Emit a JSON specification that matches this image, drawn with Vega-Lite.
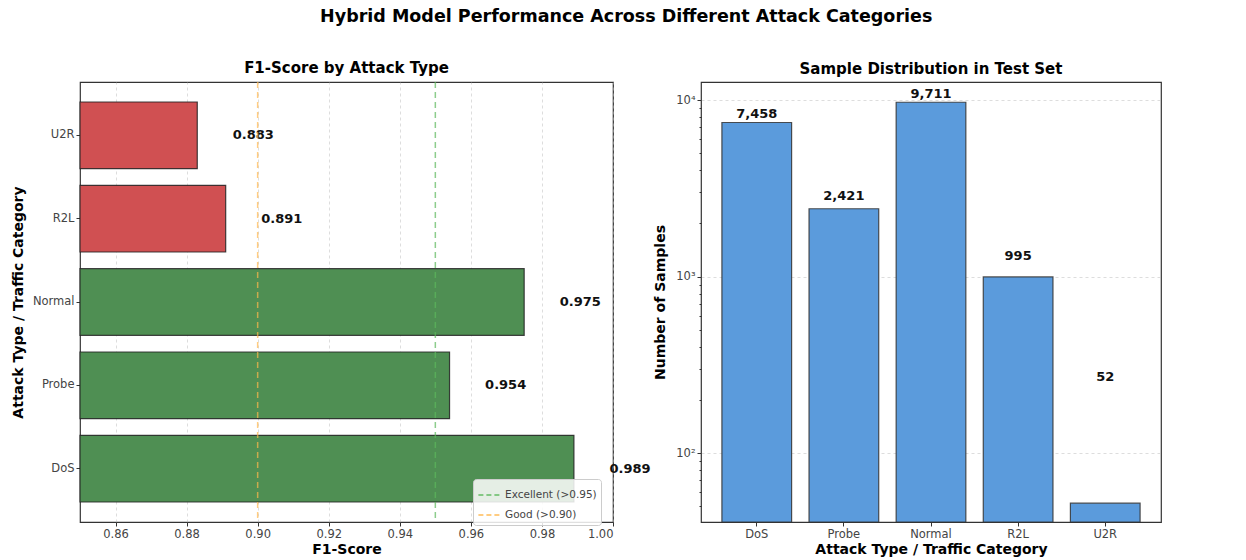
{
  "$schema": "https://vega.github.io/schema/vega-lite/v6.json",
  "background": "white",
  "padding": {"left": 10, "top": 8, "right": 5, "bottom": 4},
  "title": {"text": "Hybrid Model Performance Across Different Attack Categories", "fontSize": 17.5, "fontWeight": "bold", "anchor": "middle", "offset": 35, "dx": 40, "color": "#000"},
  "config": {
    "font": "DejaVu Sans",
    "view": {"stroke": "#333", "strokeWidth": 1.2},
    "title": {"font": "DejaVu Sans", "color": "#000"},
    "axis": {"labelFont": "DejaVu Sans", "titleFont": "DejaVu Sans", "labelFontSize": 11.5, "labelColor": "#444", "tickColor": "#333", "titleFontSize": 14, "titleFontWeight": "bold", "titleColor": "#000", "domain": false, "tickSize": 4},
    "legend": {"labelFont": "DejaVu Sans"}
  },
  "bounds": "flush",
  "spacing": 88,
  "hconcat": [
    {
      "width": 533,
      "height": 440,
      "title": {"text": "F1-Score by Attack Type", "fontSize": 15, "fontWeight": "bold", "offset": 5},
      "data": {"values": [
        {"type": "DoS", "f1": 0.989, "tier": "high"},
        {"type": "Probe", "f1": 0.954, "tier": "high"},
        {"type": "Normal", "f1": 0.975, "tier": "high"},
        {"type": "R2L", "f1": 0.891, "tier": "low"},
        {"type": "U2R", "f1": 0.883, "tier": "low"}
      ]},
      "transform": [{"calculate": "datum.f1 + 0.01", "as": "labelX"}],
      "layer": [
        {
          "mark": {"type": "bar", "stroke": "#222", "strokeWidth": 1.2, "strokeOpacity": 0.85},
          "encoding": {
            "y": {"field": "type", "type": "nominal", "sort": ["U2R", "R2L", "Normal", "Probe", "DoS"], "scale": {"paddingInner": 0.2, "paddingOuter": 0.24}, "axis": {"title": "Attack Type / Traffic Category", "labelAngle": 0, "titlePadding": 7, "grid": false}},
            "x": {"field": "f1", "type": "quantitative", "scale": {"domain": [0.85, 1.0], "zero": false, "nice": false}, "axis": {"title": "F1-Score", "values": [0.86, 0.88, 0.9, 0.92, 0.94, 0.96, 0.98, 1.0], "format": ".2f", "grid": true, "gridDash": [3, 3], "gridColor": "#bbb", "gridOpacity": 0.5, "titlePadding": 3}},
            "x2": {"datum": 0.85},
            "fill": {"field": "tier", "type": "nominal", "scale": {"domain": ["high", "low"], "range": ["#4f8f53", "#d05052"]}, "legend": null}
          }
        },
        {
          "mark": {"type": "text", "align": "left", "baseline": "middle", "fontWeight": "bold", "fontSize": 13, "color": "#111"},
          "encoding": {
            "y": {"field": "type", "type": "nominal", "sort": ["U2R", "R2L", "Normal", "Probe", "DoS"]},
            "x": {"field": "labelX", "type": "quantitative"},
            "text": {"field": "f1", "type": "quantitative", "format": ".3f"}
          }
        },
        {
          "data": {"values": [
            {"thr": 0.95, "label": "Excellent (>0.95)"},
            {"thr": 0.9, "label": "Good (>0.90)"}
          ]},
          "mark": {"type": "rule", "strokeDash": [6, 4], "strokeWidth": 1.5, "opacity": 0.7},
          "encoding": {
            "x": {"field": "thr", "type": "quantitative"},
            "stroke": {"field": "label", "type": "nominal", "scale": {"domain": ["Excellent (>0.95)", "Good (>0.90)"], "range": ["#5cb85c", "#ffb74d"]}, "legend": {"orient": "none", "legendX": 393, "legendY": 397, "title": null, "symbolType": "stroke", "symbolDash": [5, 3], "symbolStrokeWidth": 2, "symbolSize": 450, "labelFontSize": 10.5, "labelColor": "#444", "fillColor": "rgba(255,255,255,0.85)", "strokeColor": "#ccc", "padding": 4, "cornerRadius": 3, "rowPadding": 2, "symbolOpacity": 0.7}}
          }
        }
      ]
    },
    {
      "width": 460,
      "height": 440,
      "title": {"text": "Sample Distribution in Test Set", "fontSize": 15, "fontWeight": "bold", "offset": 5},
      "data": {"values": [
        {"type": "DoS", "n": 7458},
        {"type": "Probe", "n": 2421},
        {"type": "Normal", "n": 9711},
        {"type": "R2L", "n": 995},
        {"type": "U2R", "n": 52}
      ]},
      "transform": [{"calculate": "datum.n + 194", "as": "labelY"}],
      "layer": [
        {
          "mark": {"type": "bar", "color": "#5b9bdc", "stroke": "#333", "strokeWidth": 1.2, "strokeOpacity": 0.85},
          "encoding": {
            "x": {"field": "type", "type": "nominal", "sort": ["DoS", "Probe", "Normal", "R2L", "U2R"], "scale": {"paddingInner": 0.2, "paddingOuter": 0.24}, "axis": {"title": "Attack Type / Traffic Category", "labelAngle": 0, "titlePadding": 3}},
            "y": {"field": "n", "type": "quantitative", "scale": {"type": "log", "domain": [40.7, 12650], "nice": false}, "axis": {"title": "Number of Samples", "titlePadding": 8, "values": [50, 60, 70, 80, 90, 100, 200, 300, 400, 500, 600, 700, 800, 900, 1000, 2000, 3000, 4000, 5000, 6000, 7000, 8000, 9000, 10000], "labelExpr": "datum.value == 100 ? '10²' : datum.value == 1000 ? '10³' : datum.value == 10000 ? '10⁴' : ''", "tickSize": {"condition": {"test": "indexof([100, 1000, 10000], datum.value) >= 0", "value": 4}, "value": 2}, "grid": true, "gridDash": [3, 3], "gridColor": "#bbb", "gridOpacity": {"condition": {"test": "indexof([100, 1000, 10000], datum.value) >= 0", "value": 0.5}, "value": 0}}},
            "y2": {"datum": 40.7}
          }
        },
        {
          "mark": {"type": "text", "align": "center", "baseline": "bottom", "fontWeight": "bold", "fontSize": 13, "color": "#111"},
          "encoding": {
            "x": {"field": "type", "type": "nominal", "sort": ["DoS", "Probe", "Normal", "R2L", "U2R"]},
            "y": {"field": "labelY", "type": "quantitative"},
            "text": {"field": "n", "type": "quantitative", "format": ","}
          }
        }
      ]
    }
  ]
}
